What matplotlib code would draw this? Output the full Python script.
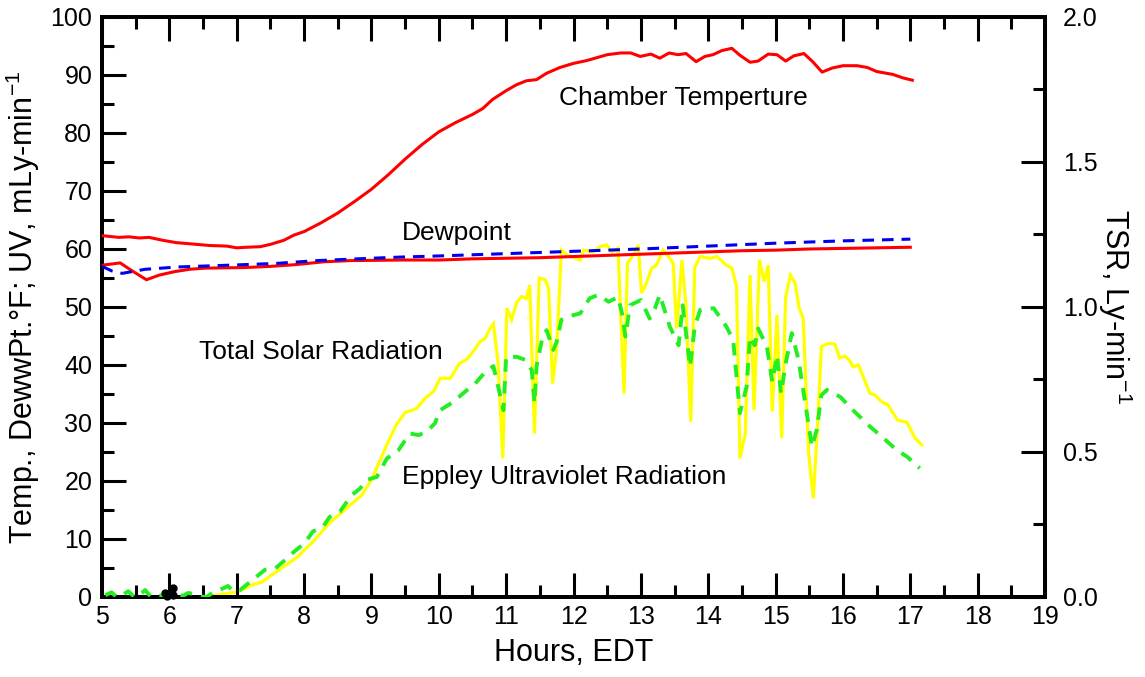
import matplotlib
matplotlib.use("Agg")
import matplotlib.pyplot as plt
import numpy as np
from matplotlib.ticker import MultipleLocator

plt.rcParams['font.family'] = ['Liberation Sans', 'DejaVu Sans']
plt.rcParams['mathtext.fontset'] = 'custom'
plt.rcParams['mathtext.rm'] = 'Liberation Sans'
plt.rcParams['mathtext.default'] = 'regular'

# ---------------- data ----------------
chamber_h = [5.0, 5.25, 5.4, 5.55, 5.7, 5.9, 6.1, 6.3, 6.6, 6.85, 7.0, 7.15, 7.35, 7.5, 7.7, 7.85,
             8.0, 8.25, 8.5, 8.75, 9.0, 9.25, 9.5, 9.75, 10.0, 10.25, 10.5, 10.65, 10.8, 11.0,
             11.15, 11.3, 11.45, 11.6, 11.8, 12.0, 12.2, 12.35, 12.5, 12.7, 12.85, 12.99, 13.15,
             13.28, 13.42, 13.55, 13.67, 13.82, 13.95, 14.07, 14.2, 14.35, 14.47, 14.62, 14.74,
             14.89, 15.02, 15.15, 15.27, 15.42, 15.55, 15.69, 15.84, 16.0, 16.21, 16.36, 16.5,
             16.74, 16.89, 17.03]
chamber_t = [62.3, 62.0, 62.1, 61.9, 62.0, 61.5, 61.1, 60.9, 60.6, 60.5, 60.2, 60.3, 60.4, 60.8,
             61.5, 62.4, 63.0, 64.5, 66.2, 68.2, 70.3, 72.8, 75.5, 78.0, 80.2, 81.8, 83.2, 84.2,
             85.8, 87.3, 88.3, 89.0, 89.2, 90.3, 91.3, 92.0, 92.5, 93.0, 93.5, 93.8, 93.8, 93.2,
             93.6, 92.9, 93.8, 93.5, 93.7, 92.3, 93.2, 93.5, 94.2, 94.6, 93.4, 92.2, 92.4, 93.6,
             93.5, 92.4, 93.3, 93.7, 92.3, 90.5, 91.2, 91.6, 91.6, 91.3, 90.6, 90.1, 89.5, 89.1]

air_h = [5.0, 5.27, 5.45, 5.66, 5.85, 6.08, 6.3, 6.53, 7.12, 7.5, 7.87, 8.3, 8.7, 9.5, 10.0,
         10.5, 11.0, 11.5, 12.0, 12.5, 13.0, 13.5, 14.0, 14.5, 15.0, 15.5, 16.0, 16.5, 17.0]
air_t = [57.2, 57.6, 56.2, 54.7, 55.5, 56.1, 56.5, 56.7, 56.8, 57.0, 57.3, 57.8, 58.0, 58.1, 58.1,
         58.3, 58.4, 58.5, 58.7, 58.9, 59.1, 59.3, 59.5, 59.7, 59.8, 60.0, 60.1, 60.2, 60.3]

dew_h = [5.0, 5.15, 5.3, 5.64, 6.13, 6.87, 7.57, 8.2, 9.0, 9.42, 10.0, 11.0, 12.0, 13.0, 14.0,
         15.0, 16.0, 17.0]
dew_t = [57.0, 56.2, 55.8, 56.5, 56.9, 57.2, 57.5, 58.0, 58.4, 58.6, 58.8, 59.2, 59.6, 60.0, 60.5,
         61.0, 61.4, 61.7]

# Total solar radiation, Ly-min^-1
tsr_h = [6.68, 7.02, 7.23, 7.38, 7.52, 7.67, 7.89, 8.13, 8.38, 8.63, 8.86, 9.0, 9.13, 9.25, 9.37,
         9.5, 9.67, 9.8, 9.92, 10.02, 10.17, 10.31, 10.41, 10.51, 10.61, 10.69, 10.76, 10.81,
         10.88, 10.95, 11.01, 11.08, 11.16, 11.23, 11.3, 11.35, 11.42, 11.49, 11.58, 11.63, 11.69,
         11.75, 11.82, 11.9, 12.1, 12.15, 12.29, 12.39, 12.49, 12.57, 12.66, 12.7, 12.75, 12.8,
         12.89, 12.96, 13.01, 13.08, 13.16, 13.23, 13.33, 13.41, 13.48, 13.53, 13.61, 13.67,
         13.74, 13.8, 13.88, 14.03, 14.13, 14.27, 14.35, 14.42, 14.47, 14.55, 14.62, 14.68,
         14.76, 14.83, 14.89, 14.95, 15.02, 15.09, 15.15, 15.22, 15.29, 15.35, 15.41, 15.49,
         15.56, 15.63, 15.68, 15.78, 15.88, 15.95, 16.03, 16.09, 16.15, 16.23, 16.4, 16.48,
         16.57, 16.67, 16.81, 16.95, 17.07, 17.17]
tsr_v = [0.006, 0.018, 0.042, 0.052, 0.076, 0.100, 0.136, 0.190, 0.256, 0.306, 0.352, 0.404,
         0.472, 0.536, 0.594, 0.636, 0.650, 0.686, 0.708, 0.754, 0.754, 0.806, 0.818, 0.846,
         0.880, 0.892, 0.926, 0.942, 0.806, 0.478, 0.996, 0.956, 1.018, 1.036, 1.030, 1.076,
         0.564, 1.100, 1.094, 1.064, 0.736, 0.858, 1.196, 1.180, 1.162, 1.196, 1.190, 1.208,
         1.214, 1.190, 1.202, 0.978, 0.702, 1.150, 1.180, 1.214, 1.048, 1.082, 1.134, 1.144,
         1.196, 1.174, 1.150, 0.926, 1.162, 1.002, 0.604, 1.138, 1.174, 1.168, 1.174, 1.144,
         1.134, 1.070, 0.478, 0.564, 1.110, 0.644, 1.162, 1.088, 1.144, 0.640, 0.972, 0.548,
         1.036, 1.110, 1.082, 0.996, 0.960, 0.496, 0.340, 0.622, 0.864, 0.874, 0.872, 0.824,
         0.830, 0.818, 0.794, 0.800, 0.702, 0.696, 0.674, 0.662, 0.610, 0.602, 0.548, 0.524]

uv_h = [5.05, 5.14, 5.22, 5.3, 5.39, 5.47, 5.55, 5.64, 5.72, 5.8, 5.9, 6.0, 6.1, 6.2, 6.28, 6.36,
        6.45, 6.55, 6.68, 6.8, 6.87, 6.95, 7.05, 7.23, 7.42, 7.57, 7.72, 7.84, 8.01, 8.13, 8.28,
        8.38, 8.53, 8.71, 8.83, 8.93, 9.08, 9.23, 9.4, 9.57, 9.7, 9.82, 9.94, 10.02, 10.21,
        10.39, 10.54, 10.69, 10.81, 10.88, 10.96, 11.0, 11.16, 11.28, 11.38, 11.42, 11.45, 11.53,
        11.6, 11.7, 11.75, 11.82, 12.0, 12.1, 12.24, 12.37, 12.52, 12.66, 12.72, 12.77, 12.84,
        13.0, 13.13, 13.21, 13.28, 13.43, 13.56, 13.62, 13.73, 13.8, 13.88, 14.08, 14.27, 14.37,
        14.47, 14.57, 14.62, 14.69, 14.74, 14.87, 14.95, 15.02, 15.08, 15.15, 15.24, 15.34,
        15.44, 15.54, 15.61, 15.68, 15.76, 15.96, 16.15, 16.4, 16.6, 16.8, 16.95, 17.14]
uv_v = [0.3, 0.8, 0.0, 0.3, 1.0, 0.1, 0.2, 1.2, 0.1, 0.1, 0.3, 0.0, 0.4, 0.2, 0.7, 0.5, 0.1, 0.0,
        1.0, 1.5, 1.9, 1.0, 1.2, 2.9, 4.7, 4.9, 6.4, 7.7, 9.3, 11.3, 12.1, 13.8, 14.7, 17.6, 18.7,
        20.2, 20.7, 23.9, 25.3, 28.2, 27.9, 28.5, 29.9, 32.2, 33.6, 35.4, 36.8, 38.8, 39.8, 36.3,
        32.2, 41.4, 41.4, 40.9, 39.1, 33.4, 39.7, 44.3, 46.0, 42.6, 44.0, 47.8, 48.6, 48.9, 51.5,
        52.1, 50.9, 51.7, 48.9, 44.9, 50.3, 51.2, 48.0, 49.8, 52.1, 46.6, 43.4, 50.3, 39.7, 46.6,
        49.5, 49.8, 46.6, 44.3, 31.7, 36.3, 44.9, 43.4, 46.3, 43.2, 37.1, 41.7, 35.1, 40.3, 45.5,
        40.9, 33.4, 25.9, 28.8, 34.8, 35.7, 34.5, 32.2, 29.4, 27.4, 25.3, 24.2, 22.2]

dots_h = [5.93, 5.97, 6.05, 6.06]
dots_v = [0.7, 0.2, 1.6, 0.3]

x_ticks = list(range(5, 20))
left_ticks = list(range(0, 101, 10))
right_ticks = [0.0, 0.5, 1.0, 1.5, 2.0]

# ---------------- figure ----------------
fig = plt.figure(figsize=(11.45, 6.77), dpi=100)
ax = fig.add_axes([0.0891, 0.1182, 0.8236, 0.8567])
ax2 = ax.twinx()
ax.set_zorder(ax2.get_zorder() + 1)
ax.patch.set_visible(False)

ax2.plot(tsr_h, tsr_v, color='#ffff00', lw=2.3, solid_joinstyle='miter', zorder=2)

ax.plot(uv_h, uv_v, color='#22ee22', lw=2.8, dashes=(3.2, 2.4), zorder=3)
ax.plot(chamber_h, chamber_t, color='#ff0000', lw=2.2, zorder=4)
ax.plot(air_h, air_t, color='#ff0000', lw=2.2, zorder=4)
ax.plot(dew_h, dew_t, color='#0000ee', lw=2.2, dashes=(3.8, 2.6), zorder=5)
ax.plot(dots_h, dots_v, 'o', color='black', ms=5, zorder=6, clip_on=False)

ax.set_xlim(5, 19)
ax.set_ylim(0, 100)
ax2.set_ylim(0, 2.0)

ax.set_xticks(x_ticks)
ax.set_xticklabels([str(t) for t in x_ticks])
ax.xaxis.set_minor_locator(MultipleLocator(0.5))
ax.set_yticks(left_ticks)
ax.yaxis.set_minor_locator(MultipleLocator(5))
ax2.set_yticks(right_ticks)
ax2.set_yticklabels(['%.1f' % t for t in right_ticks])
ax2.yaxis.set_minor_locator(MultipleLocator(0.25))

for s in ax.spines.values():
    s.set_linewidth(2.8)
for s in ax2.spines.values():
    s.set_linewidth(2.8)

ax.tick_params(axis='both', which='major', direction='in', length=17, width=2.2,
               labelsize=18, top=True, right=False, pad=7)
ax.tick_params(axis='both', which='minor', direction='in', length=8.5, width=2.2,
               top=True, right=False)
ax.tick_params(axis='x', which='major', pad=6)
ax2.tick_params(axis='y', which='major', direction='in', length=17, width=2.2,
                labelsize=18, pad=13)
ax2.tick_params(axis='y', which='minor', direction='in', length=8.5, width=2.2)

ax.set_xlabel('Hours, EDT', fontsize=22, labelpad=6)
ax.set_ylabel('Temp., DewwPt.°F; UV, mLy-min$^{-1}$', fontsize=22, labelpad=6)
ax2.set_ylabel('TSR, Ly-min$^{-1}$', fontsize=22, rotation=-90, labelpad=26)

ax.text(13.63, 86.0, 'Chamber Temperture', fontsize=19, ha='center', va='center')
ax.text(10.26, 62.8, 'Dewpoint', fontsize=19, ha='center', va='center')
ax.text(8.25, 42.2, 'Total Solar Radiation', fontsize=19, ha='center', va='center')
ax.text(11.86, 20.7, 'Eppley Ultraviolet Radiation', fontsize=19, ha='center', va='center')

fig.savefig('out.png', dpi=100)
